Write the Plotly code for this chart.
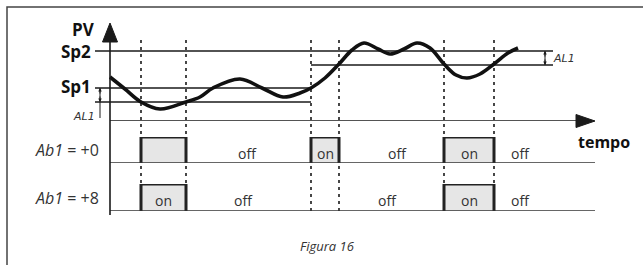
import plotly.graph_objects as go

W, H = 643, 265

# ---------------- data ----------------
# PV trace (time units, PV units)
pv_t = [0, 3, 6.2, 10, 15.2, 18, 20.6, 26, 30.4, 34.6, 38, 40.2, 43, 45.8, 48.4, 50.8,
        53.6, 56, 58.8, 61.4, 64, 66.8, 69.2, 71.4, 74, 76.8, 79.6, 81.6]
pv_v = [44, 32, 19, 12, 19, 24, 33, 42, 33, 24, 28, 33, 43, 57, 71, 78,
        72, 67, 72, 78, 73, 57, 46, 43, 47, 57, 68, 73]

SP1 = 33
SP2 = 70
AL1 = 14
sp1_span = [-3, 40.2]
sp2_span = [-3, 88.6]
sp2_al_span = [40.2, 88.6]
t_end = 97

switch_times = [6.2, 15.2, 40.2, 45.8, 66.8, 76.8]
row_labels = ["Ab1 = +0", "Ab1 = +8"]
row0_on = [[6.2, 15.2], [40.2, 45.8], [66.8, 76.8]]
row1_on = [[6.2, 15.2], [66.8, 76.8]]
row0_on_text = [None, "on", "on"]
row1_on_text = ["on", "on"]
row0_off_t = [27.4, 57.4, 82]
row1_off_t = [26.6, 55.4, 82]

# ---------------- layout helpers ----------------
PXU = 5.0          # px per time unit
T0PX = 110         # pixel x of t = 0
def X(px):
    return px / W
def Y(py):
    return 1 - py / H

xr = [-T0PX / PXU, (W - T0PX) / PXU]
INK = "#1a1a1a"
TXT = "#333333"
FONT = "Open Sans, Noto Sans, sans-serif"

fig = go.Figure()

# reference lines
def hline(span, val, width=1.3):
    fig.add_trace(go.Scatter(x=span, y=[val, val], mode="lines",
                             line=dict(color=INK, width=width),
                             hoverinfo="skip", showlegend=False))

hline(sp2_span, SP2)
hline(sp2_al_span, SP2 - AL1)
hline(sp1_span, SP1)
hline(sp1_span, SP1 - AL1)
# time axis
hline([0, t_end - 3.4], 0, 1.6)

# PV curve
fig.add_trace(go.Scatter(x=pv_t, y=pv_v, mode="lines",
                         line=dict(color="#111111", width=3.6, shape="spline", smoothing=1.0),
                         hoverinfo="skip", showlegend=False))

# digital rows
def row(on_list, yaxis):
    for a, b in on_list:
        fig.add_trace(go.Scatter(x=[a, a, b, b], y=[0, 1, 1, 0], mode="lines",
                                 fill="toself", fillcolor="#e6e6e6",
                                 line=dict(color="#222222", width=3),
                                 xaxis="x", yaxis=yaxis,
                                 hoverinfo="skip", showlegend=False))
    fig.add_trace(go.Scatter(x=[0, t_end], y=[0, 0], mode="lines",
                             line=dict(color="#333333", width=1.5),
                             xaxis="x", yaxis=yaxis,
                             hoverinfo="skip", showlegend=False))

row(row0_on, "y2")
row(row1_on, "y3")

shapes = []
# dashed switching lines
for t in switch_times:
    shapes.append(dict(type="line", xref="x", yref="paper", x0=t, x1=t,
                       y0=Y(211), y1=Y(40),
                       line=dict(color=INK, width=1.6, dash="3px,4px"), layer="below"))
# y-axis vertical line
shapes.append(dict(type="line", xref="x", yref="paper", x0=0, x1=0, y0=Y(215), y1=Y(40),
                   line=dict(color=INK, width=1.6)))
# y arrow head
shapes.append(dict(type="path", xref="paper", yref="paper",
                   path=f"M {X(110)} {Y(23)} L {X(102.5)} {Y(42)} L {X(117.5)} {Y(42)} Z",
                   fillcolor=INK, line=dict(color=INK, width=1)))
# x arrow head
xend = T0PX + t_end * PXU
shapes.append(dict(type="path", xref="paper", yref="paper",
                   path=f"M {X(xend)} {Y(121)} L {X(xend-19)} {Y(114.5)} L {X(xend-19)} {Y(127.5)} Z",
                   fillcolor=INK, line=dict(color=INK, width=1)))
# frame
shapes.append(dict(type="rect", xref="paper", yref="paper", x0=X(7), x1=X(660), y0=Y(290), y1=Y(7),
                   line=dict(color="#444444", width=1.5)))
# AL1 dimension (left)
shapes.append(dict(type="line", xref="paper", yref="y", x0=X(100), x1=X(100), y0=SP1 - AL1 - 16, y1=SP1,
                   line=dict(color=INK, width=1)))
# AL1 dimension (right)
shapes.append(dict(type="line", xref="paper", yref="y", x0=X(545), x1=X(545), y0=SP2 - AL1, y1=SP2,
                   line=dict(color=INK, width=1)))

annotations = []
def txt(x, y, s, size, xanchor="center", xref="paper", yref="paper", bold=False, italic=False, color=TXT, family=FONT):
    if bold:
        s = f"<b>{s}</b>"
    if italic:
        s = f"<i>{s}</i>"
    annotations.append(dict(x=x, y=y, xref=xref, yref=yref, text=s, showarrow=False,
                            xanchor=xanchor, yanchor="middle",
                            font=dict(size=size, color=color, family=family)))

txt(X(97), Y(30), "PV", 17, xanchor="right", bold=True, color="#111")
txt(X(93), SP2, "Sp2", 17, xanchor="right", yref="y", bold=True, color="#111")
txt(X(93), SP1 + 2, "Sp1", 17, xanchor="right", yref="y", bold=True, color="#111")
txt(X(604), Y(142), "tempo", 16, bold=True, color="#111")
txt(X(97), Y(116), "AL1", 11, xanchor="right", italic=True, family="DejaVu Sans, sans-serif")
txt(X(551), (SP2 + SP2 - AL1) / 2, "AL1", 11, xanchor="left", yref="y", italic=True, family="DejaVu Sans, sans-serif")
txt(X(327), Y(246), "Figura 16", 13, italic=True)

# row labels
txt(X(101), 0.5, "<i>Ab1</i> = +0", 16, xanchor="right", yref="y2")
txt(X(101), 0.5, "<i>Ab1</i> = +8", 16, xanchor="right", yref="y3")

for (a, b), s in zip(row0_on, row0_on_text):
    if s:
        txt((a + b) / 2, 0.38, s, 14, xref="x", yref="y2")
for (a, b), s in zip(row1_on, row1_on_text):
    if s:
        txt((a + b) / 2, 0.4, s, 14, xref="x", yref="y3")
for t in row0_off_t:
    txt(t, 0.38, "off", 14, xref="x", yref="y2")
for t in row1_off_t:
    txt(t, 0.4, "off", 14, xref="x", yref="y3")

# double arrowheads for AL1 dims
for xpx, top, bot in [(100, SP1, SP1 - AL1), (545, SP2, SP2 - AL1)]:
    for tgt, off in ((top, 7), (bot, -7)):
        annotations.append(dict(x=X(xpx), y=tgt, xref="paper", yref="y", ax=0, ay=off,
                                axref="pixel", ayref="pixel", showarrow=True, arrowhead=2,
                                arrowsize=0.7, arrowwidth=1, arrowcolor=INK, text=""))

fig.update_layout(
    width=W, height=H, margin=dict(l=0, r=0, t=0, b=0),
    paper_bgcolor="white", plot_bgcolor="rgba(0,0,0,0)",
    xaxis=dict(range=xr, domain=[0, 1], visible=False, fixedrange=True),
    yaxis=dict(range=[0, 121], domain=[Y(121), 1], visible=False, fixedrange=True),
    yaxis2=dict(range=[0, 1], domain=[Y(163), Y(137)], visible=False, fixedrange=True),
    yaxis3=dict(range=[0, 1], domain=[Y(211), Y(184)], visible=False, fixedrange=True),
    shapes=shapes, annotations=annotations, showlegend=False,
)

fig.write_html("out.html", config={"displayModeBar": False},
               post_script="document.body.style.margin='0';document.body.style.overflow='hidden';")
